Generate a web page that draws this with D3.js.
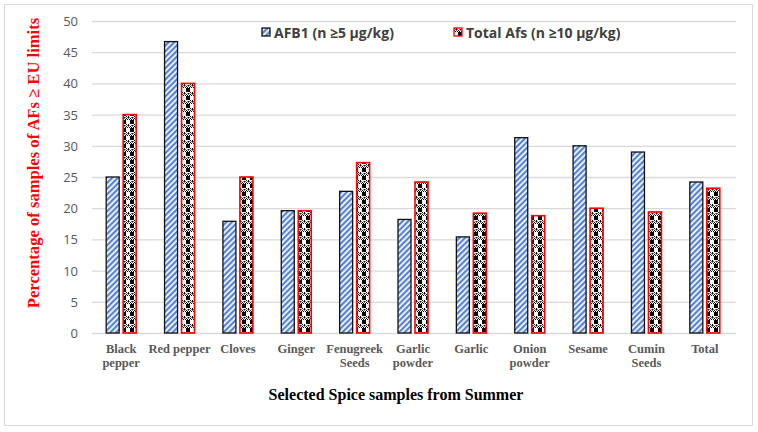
<!DOCTYPE html>
<html>
<head>
<meta charset="utf-8">
<script src="https://cdn.jsdelivr.net/npm/d3@7"></script>
<style>
  body { margin: 0; background: #fff; }
</style>
</head>
<body>
<svg id="chart" width="758" height="432"></svg>
<script>
// data
var categories = ["Black pepper", "Red pepper", "Cloves", "Ginger", "Fenugreek Seeds",
  "Garlic powder", "Garlic", "Onion powder", "Sesame", "Cumin Seeds", "Total"];
var catLines = [["Black", "pepper"], ["Red pepper"], ["Cloves"], ["Ginger"], ["Fenugreek", "Seeds"],
  ["Garlic", "powder"], ["Garlic"], ["Onion", "powder"], ["Sesame"], ["Cumin", "Seeds"], ["Total"]];
var afb1 = [25, 46.7, 17.9, 19.6, 22.7, 18.2, 15.4, 31.3, 30, 29, 24.2];
var totalAfs = [35, 40, 25, 19.6, 27.3, 24.2, 19.2, 18.8, 20, 19.4, 23.2];
var yTicks = [0, 5, 10, 15, 20, 25, 30, 35, 40, 45, 50];

var svg = d3.select("#chart");
var defs = svg.append("defs");

// blue diagonal stripes
var p1 = defs.append("pattern").attr("id", "stripes")
  .attr("patternUnits", "userSpaceOnUse").attr("width", 4).attr("height", 4)
  .attr("patternTransform", "rotate(45)");
p1.append("rect").attr("width", 4).attr("height", 4).attr("fill", "#fff");
p1.append("rect").attr("width", 2.3).attr("height", 4).attr("fill", "#5683d2");

// black/white checker-ish pattern
var p2 = defs.append("pattern").attr("id", "checks")
  .attr("patternUnits", "userSpaceOnUse").attr("width", 8).attr("height", 8);
p2.append("rect").attr("width", 8).attr("height", 8).attr("fill", "#fff");
p2.append("rect").attr("x", 2).attr("y", 0).attr("width", 4).attr("height", 4).attr("fill", "#000");
[[0, 5], [2, 6], [4, 5], [6, 6], [1, 7], [3, 7], [5, 7], [7, 7], [0, 4], [6, 4]].forEach(function (c) {
  p2.append("rect").attr("x", c[0]).attr("y", c[1]).attr("width", 1).attr("height", 1).attr("fill", "#000");
});
[[1, 5], [3, 5], [5, 5], [7, 5], [0, 6], [4, 6]].forEach(function (c) {
  p2.append("rect").attr("x", c[0]).attr("y", c[1]).attr("width", 1).attr("height", 1).attr("fill", "#777");
});

// outer frame
svg.append("rect").attr("x", 4.5).attr("y", 4.5).attr("width", 748).attr("height", 421)
  .attr("fill", "#fff").attr("stroke", "#d9d9d9");

var margin = { left: 92, right: 24, top: 21, bottom: 99 };
var W = 758, H = 432;
var x = d3.scaleBand().domain(categories).range([margin.left, W - margin.right]).paddingInner(0).paddingOuter(0);
var y = d3.scaleLinear().domain([0, 50]).range([H - margin.bottom, margin.top]);

// gridlines
svg.append("g").selectAll("line").data(yTicks).join("line")
  .attr("x1", margin.left).attr("x2", W - margin.right + 2)
  .attr("y1", function (d) { return y(d) + 0.5; }).attr("y2", function (d) { return y(d) + 0.5; })
  .attr("stroke", "#d9d9d9").attr("stroke-width", 1.3);

// y tick labels
svg.append("g").selectAll("text").data(yTicks).join("text")
  .attr("x", 78).attr("y", function (d) { return y(d) + 5; })
  .attr("text-anchor", "end").attr("font-family", "Open Sans, Liberation Sans, sans-serif")
  .attr("font-size", 13).attr("fill", "#595959").text(function (d) { return d; });

var bw = 13, gap = 4;
var g = svg.append("g");
g.selectAll("rect.a").data(afb1).join("rect").attr("class", "a")
  .attr("x", function (d, i) { return x(categories[i]) + x.bandwidth() / 2 - gap / 2 - bw; })
  .attr("y", function (d) { return y(d); })
  .attr("width", bw).attr("height", function (d) { return y(0) - y(d); })
  .attr("fill", "url(#stripes)").attr("stroke", "#111").attr("stroke-width", 1.3);
g.selectAll("rect.b").data(totalAfs).join("rect").attr("class", "b")
  .attr("x", function (d, i) { return x(categories[i]) + x.bandwidth() / 2 + gap / 2; })
  .attr("y", function (d) { return y(d); })
  .attr("width", bw).attr("height", function (d) { return y(0) - y(d); })
  .attr("fill", "url(#checks)").attr("stroke", "#ff0000").attr("stroke-width", 1.6);

// category labels
var cl = svg.append("g").selectAll("text").data(categories).join("text")
  .attr("x", function (d) { return x(d) + x.bandwidth() / 2; })
  .attr("y", 353)
  .attr("text-anchor", "middle").attr("font-family", "Liberation Serif, Times New Roman, serif")
  .attr("font-weight", "bold").attr("font-size", 12.5).attr("fill", "#595959");
cl.each(function (d, i) {
  var t = d3.select(this);
  catLines[i].forEach(function (s, j) {
    t.append("tspan").attr("x", x(d) + x.bandwidth() / 2).attr("dy", j === 0 ? 0 : 14).text(s);
  });
});

// axis titles
svg.append("text").attr("x", 396).attr("y", 400).attr("text-anchor", "middle")
  .attr("font-family", "Liberation Serif, Times New Roman, serif").attr("font-weight", "bold")
  .attr("font-size", 16).attr("fill", "#000").text("Selected Spice samples from Summer");
svg.append("text").attr("transform", "translate(39,163) rotate(-90)").attr("text-anchor", "middle")
  .attr("font-family", "Liberation Serif, Times New Roman, serif").attr("font-weight", "bold")
  .attr("font-size", 16.6).attr("fill", "#ff0000").text("Percentage of samples of AFs \u2265 EU limits");

// legend
var legend = [{ label: "AFB1 (n \u22655 \u00b5g/kg)", fill: "url(#stripes)", stroke: "#111", x: 262 },
  { label: "Total Afs (n \u226510 \u00b5g/kg)", fill: "url(#checks)", stroke: "#ff0000", x: 454 }];
var lg = svg.append("g").selectAll("g").data(legend).join("g");
lg.append("rect").attr("x", function (d) { return d.x; }).attr("y", 28).attr("width", 8).attr("height", 8)
  .attr("fill", function (d) { return d.fill; }).attr("stroke", function (d) { return d.stroke; }).attr("stroke-width", 1.3);
lg.append("text").attr("x", function (d) { return d.x + 12; }).attr("y", 37.5)
  .attr("font-family", "Open Sans, Liberation Sans, sans-serif").attr("font-weight", "bold")
  .attr("font-size", 14).attr("fill", "#404040").text(function (d) { return d.label; });
</script>
</body>
</html>
